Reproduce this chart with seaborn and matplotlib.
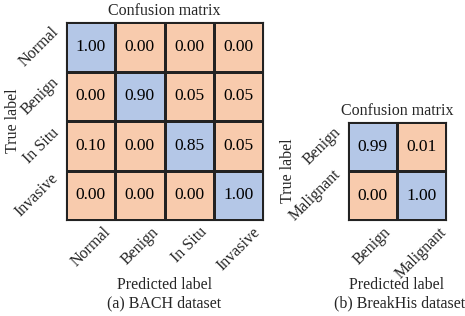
import matplotlib
matplotlib.use("Agg")
import matplotlib.pyplot as plt
import seaborn as sns
import numpy as np
from matplotlib.colors import ListedColormap

# BACH dataset
bach_labels = ["Normal", "Benign", "In Situ", "Invasive"]
bach_cm = [
    [1.00, 0.00, 0.00, 0.00],
    [0.00, 0.90, 0.05, 0.05],
    [0.10, 0.00, 0.85, 0.05],
    [0.00, 0.00, 0.00, 1.00],
]

# BreakHis dataset
breakhis_labels = ["Benign", "Malignant"]
breakhis_cm = [
    [0.99, 0.01],
    [0.00, 1.00],
]

sns.set_style("white")
plt.rcParams["font.family"] = ["Liberation Serif", "DejaVu Serif"]
plt.rcParams["font.size"] = 11.5

cmap = ListedColormap(["#f8cbad", "#b4c7e7"])

fig = plt.figure(figsize=(4.65, 3.16), dpi=100)
W, H = 465, 316


def px_axes(x0, y0, x1, y1):
    return fig.add_axes([x0 / W, (H - y1) / H, (x1 - x0) / W, (y1 - y0) / H])


def draw_cm(ax, cm, labels, ylab_x, xlab_y):
    sns.heatmap(np.array(cm), ax=ax, annot=True, fmt=".2f", cmap=cmap,
                vmin=0, vmax=1, cbar=False, linewidths=0.8, linecolor="#222222",
                xticklabels=labels, yticklabels=labels,
                annot_kws={"color": "black", "fontsize": 12.5})
    for s in ax.spines.values():
        s.set_visible(True)
        s.set_color("#222222")
        s.set_linewidth(0.8)
    ax.tick_params(length=0, pad=3)
    plt.setp(ax.get_xticklabels(), rotation=45, ha="center", va="top")
    plt.setp(ax.get_yticklabels(), rotation=45, ha="right", va="center")
    ax.set_title("Confusion matrix", pad=5, fontsize=11.5)
    ax.set_xlabel("Predicted label", va="center")
    ax.set_ylabel("True label", va="center")
    ax.xaxis.set_label_coords(0.5, xlab_y)
    ax.yaxis.set_label_coords(ylab_x, 0.5)


ax1 = px_axes(66, 22, 263, 220)
draw_cm(ax1, bach_cm, bach_labels, -0.27, -0.33)

ax2 = px_axes(348, 122, 446, 220)
draw_cm(ax2, breakhis_cm, breakhis_labels, -0.61, -0.665)

fig.text(164 / W, 1 - 303 / H, "(a) BACH dataset", ha="center", va="center")
fig.text(400 / W, 1 - 303 / H, "(b) BreakHis dataset", ha="center", va="center")

fig.savefig("out.png", dpi=100)
